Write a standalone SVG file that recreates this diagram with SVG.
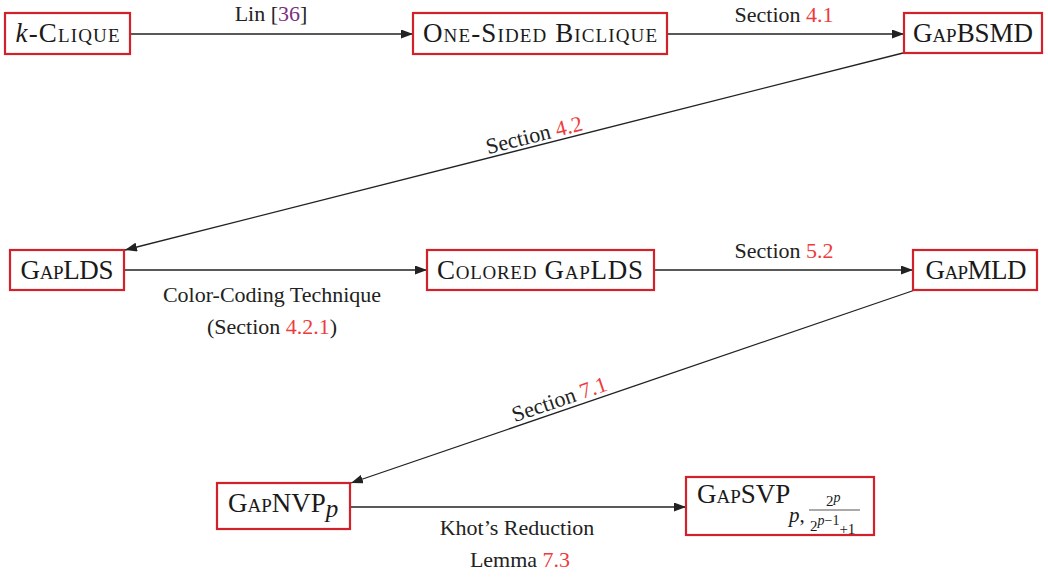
<svg xmlns="http://www.w3.org/2000/svg" width="1048" height="577" viewBox="0 0 1048 577">
  <style>
    .box { fill: #ffffff; stroke: #d1222b; stroke-width: 2.2; }
    .lbl { font-family: "Liberation Serif", "DejaVu Serif", serif; font-size: 27px; fill: #1a1a1a; font-variant: small-caps; }
    .el { font-family: "Liberation Serif", "DejaVu Serif", serif; font-size: 22px; fill: #222222; }
    .ref { fill: #ee3b3b; }
    .cite { fill: #7d2f80; }
    .edge { stroke: #222222; stroke-width: 1.3; fill: none; marker-end: url(#ah); }
    .it { font-style: italic; font-variant: normal; }
    .sub { font-family: "Liberation Serif", "DejaVu Serif", serif; fill: #1a1a1a; }
  </style>
  <defs>
    <marker id="ah" markerUnits="userSpaceOnUse" markerWidth="12" markerHeight="9" refX="12" refY="4.5" orient="auto">
      <path d="M0,0 L12,4.5 L0,9 z" fill="#222222"/>
    </marker>
  </defs>
  <rect width="1048" height="577" fill="#ffffff"/>

  <g id="connectors">
    <line class="edge" x1="130" y1="34" x2="413" y2="34"/>
    <line class="edge" x1="667" y1="34" x2="904" y2="34"/>
    <line class="edge" x1="903" y1="53" x2="125" y2="250"/>
    <line class="edge" x1="124" y1="270" x2="427" y2="270"/>
    <line class="edge" x1="654" y1="270" x2="913" y2="270"/>
    <line class="edge" x1="915" y1="290" x2="351" y2="483"/>
    <line class="edge" x1="350" y1="507" x2="686" y2="507"/>

    <text class="el" x="271" y="21" text-anchor="middle">Lin [<tspan class="cite">36</tspan>]</text>
    <text class="el" x="784" y="22" text-anchor="middle">Section <tspan class="ref">4.1</tspan></text>
    <text class="el" transform="translate(537,146) rotate(-14.2)" x="0" y="-4" text-anchor="middle">Section <tspan class="ref">4.2</tspan></text>
    <text class="el" x="272" y="302" text-anchor="middle">Color-Coding Technique</text>
    <text class="el" x="272" y="334" text-anchor="middle">(Section <tspan class="ref">4.2.1</tspan>)</text>
    <text class="el" x="784" y="258" text-anchor="middle">Section <tspan class="ref">5.2</tspan></text>
    <text class="el" transform="translate(563,410) rotate(-18.9)" x="0" y="-4" text-anchor="middle">Section <tspan class="ref">7.1</tspan></text>
    <text class="el" x="517" y="535" text-anchor="middle">Khot’s Reduction</text>
    <text class="el" x="520" y="567" text-anchor="middle">Lemma <tspan class="ref">7.3</tspan></text>
  </g>

  <g id="k-clique">
    <rect class="box" x="5" y="13" width="125" height="41"/>
    <text class="lbl" x="67.5" y="42" text-anchor="middle" textLength="104"><tspan class="it">k</tspan>-Clique</text>
  </g>

  <g id="one-sided-biclique">
    <rect class="box" x="413" y="13" width="254" height="41"/>
    <text class="lbl" x="540" y="42" text-anchor="middle" textLength="234">One-Sided Biclique</text>
  </g>

  <g id="gapbsmd">
    <rect class="box" x="904" y="13" width="138" height="40"/>
    <text class="lbl" x="973" y="42" text-anchor="middle" textLength="120">GapBSMD</text>
  </g>

  <g id="gaplds">
    <rect class="box" x="10" y="250" width="114" height="40"/>
    <text class="lbl" x="67" y="279" text-anchor="middle" textLength="93">GapLDS</text>
  </g>

  <g id="colored-gaplds">
    <rect class="box" x="427" y="250" width="227" height="40"/>
    <text class="lbl" x="540" y="279" text-anchor="middle" textLength="206">Colored GapLDS</text>
  </g>

  <g id="gapmld">
    <rect class="box" x="913" y="250" width="124" height="40"/>
    <text class="lbl" x="976" y="279" text-anchor="middle" textLength="101">GapMLD</text>
  </g>

  <g id="gapnvp">
    <rect class="box" x="217" y="483" width="133" height="46"/>
    <text class="lbl" x="228" y="512">GapNVP<tspan class="it" style="font-size:25px" dy="5">p</tspan></text>
  </g>

  <g id="gapsvp">
    <rect class="box" x="686" y="477" width="188" height="58"/>
    <text class="lbl" x="697" y="503">GapSVP</text>
    <text class="sub" x="789" y="522" style="font-size:21px"><tspan class="it">p</tspan>,</text>
    <text class="sub" x="826" y="506" style="font-size:15px">2<tspan class="it" style="font-size:14px" dy="-4">p</tspan></text>
    <line x1="809" y1="510" x2="860" y2="510" stroke="#555555" stroke-width="1"/>
    <text class="sub" x="810" y="531" style="font-size:15px">2<tspan style="font-size:14px" dy="-6"><tspan class="it">p</tspan>−1</tspan><tspan dy="9">+1</tspan></text>
  </g>
</svg>
